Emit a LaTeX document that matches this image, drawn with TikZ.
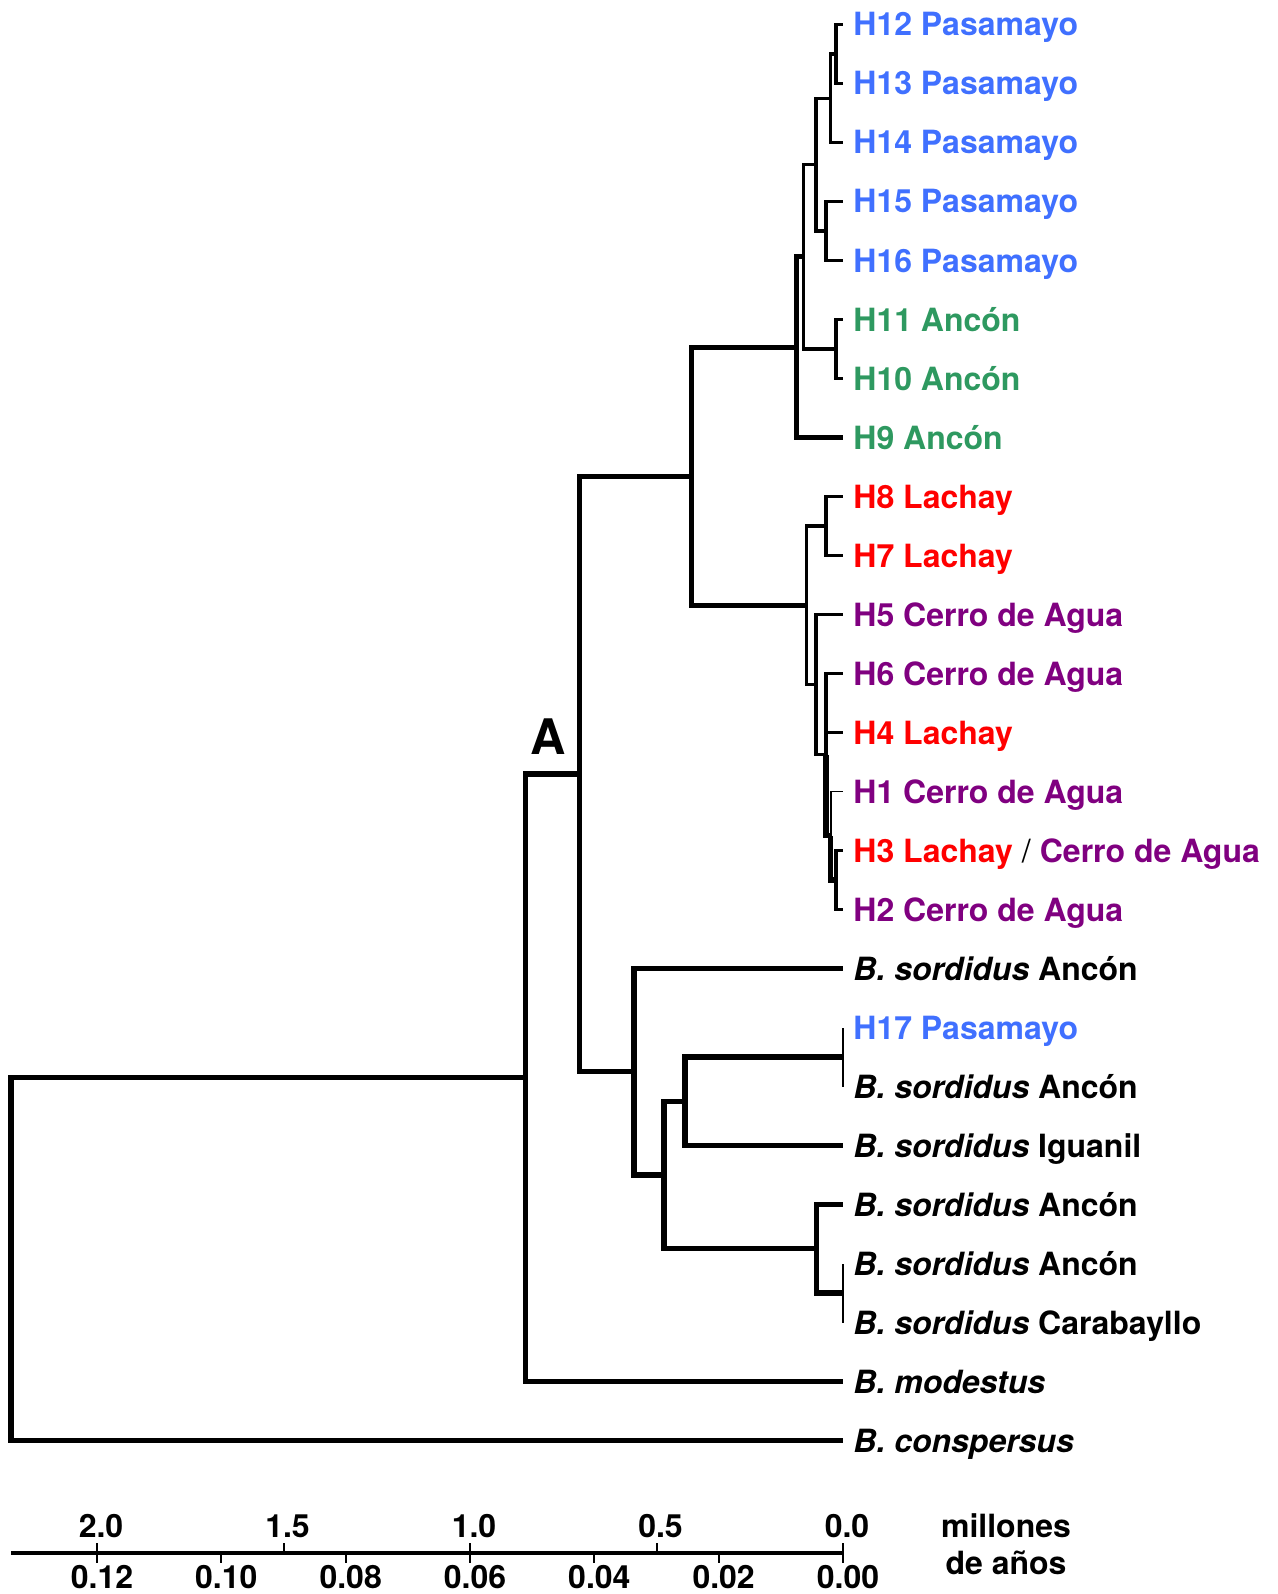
\documentclass[tikz,border=0pt]{standalone}
\usepackage{fontspec}
\setmainfont{TeX Gyre Heros}
\usepackage{xcolor}
\usepackage{tikz}
\definecolor{pasablue}{RGB}{64,112,255}
\definecolor{ancongreen}{RGB}{46,153,96}
\definecolor{lachayred}{RGB}{255,0,0}
\definecolor{cerropurple}{RGB}{128,0,128}
\newcommand{\bsp}[1]{\textit{B. #1}}

\begin{document}
\begin{tikzpicture}[x=0.5pt, y=-0.5pt, font=\fontsize{16}{19}\selectfont\bfseries,
  leaf/.style={anchor=west, inner xsep=5pt, inner ysep=0pt, text height=11.5pt, text depth=0pt},
  pasa/.style={leaf,text=pasablue}, ancon/.style={leaf,text=ancongreen},
  lachay/.style={leaf,text=lachayred}, cerro/.style={leaf,text=cerropurple},
  thk/.style={line width=2.6pt}, med/.style={line width=1.7pt}, thn/.style={line width=0.8pt},
  tick/.style={line width=1pt}]
\useasboundingbox (0,0) rectangle (1278,1594);

% leaves
\node[pasa] (h12) at (843,24.5) {H12 Pasamayo};
\node[pasa] (h13) at (843,83.5) {H13 Pasamayo};
\node[pasa] (h14) at (843,142.5) {H14 Pasamayo};
\node[pasa] (h15) at (843,201.5) {H15 Pasamayo};
\node[pasa] (h16) at (843,260.5) {H16 Pasamayo};
\node[ancon] (h11) at (843,319.5) {H11 Ancón};
\node[ancon] (h10) at (843,378.5) {H10 Ancón};
\node[ancon] (h9) at (843,437.5) {H9 Ancón};
\node[lachay] (h8) at (843,496.5) {H8 Lachay};
\node[lachay] (h7) at (843,555.5) {H7 Lachay};
\node[cerro] (h5) at (843,614.5) {H5 Cerro de Agua};
\node[cerro] (h6) at (843,673.5) {H6 Cerro de Agua};
\node[lachay] (h4) at (843,732.5) {H4 Lachay};
\node[cerro] (h1) at (843,791.5) {H1 Cerro de Agua};
\node[leaf] (h3) at (843,850.5) {\textcolor{lachayred}{H3 Lachay} \textmd{/} \textcolor{cerropurple}{Cerro de Agua}};
\node[cerro] (h2) at (843,909.5) {H2 Cerro de Agua};
\node[leaf] (sa1) at (843,968.5) {\bsp{sordidus} Ancón};
\node[pasa] (h17) at (843,1027.5) {H17 Pasamayo};
\node[leaf] (sa2) at (843,1086.5) {\bsp{sordidus} Ancón};
\node[leaf] (sig) at (843,1145.5) {\bsp{sordidus} Iguanil};
\node[leaf] (sa3) at (843,1204.5) {\bsp{sordidus} Ancón};
\node[leaf] (sa4) at (843,1263.5) {\bsp{sordidus} Ancón};
\node[leaf] (scb) at (843,1322.5) {\bsp{sordidus} Carabayllo};
\node[leaf] (mod) at (843,1381.5) {\bsp{modestus}};
\node[leaf] (consp) at (843,1440.5) {\bsp{conspersus}};

% internal nodes
\coordinate (n1) at (836,54);
\coordinate (n2) at (830.7,98.25);
\coordinate (n3) at (826,231);
\coordinate (n4) at (816,164.6);
\coordinate (n5) at (836,349);
\coordinate (n6) at (803.3,256.8);
\coordinate (n7) at (796.7,347.2);
\coordinate (m1) at (826,526);
\coordinate (p1) at (836,880);
\coordinate (p2) at (830.7,835.75);
\coordinate (p3) at (826,754.6);
\coordinate (p4) at (816,684.6);
\coordinate (p5) at (806.7,605.3);
\coordinate (lomas) at (691.4,476.2);
\coordinate (q1) at (843,1057);
\coordinate (q2) at (685,1101.25);
\coordinate (q3) at (816.7,1248.75);
\coordinate (q4) at (843,1293);
\coordinate (q5) at (664,1175);
\coordinate (q6) at (634,1071.75);
\coordinate (cladeA) at (579.5,774);
\coordinate (nA) at (525.6,1077.7);
\coordinate (root) at (11,1259.1);

% Pasamayo / Ancon
\draw[med] (n1) |- (h12.west);
\draw[med] (n1) |- (h13.west);
\draw[med] (n2) |- (n1);
\draw[med] (n2) |- (h14.west);
\draw[med] (n3) |- (h15.west);
\draw[med] (n3) |- (h16.west);
\draw[med] (n4) |- (n2);
\draw[med] (n4) |- (n3);
\draw[med] (n5) |- (h11.west);
\draw[med] (n5) |- (h10.west);
\draw[med] (n6) |- (n4);
\draw[med] (n6) |- (n5);
\draw[thk] (n7) |- (n6);
\draw[thk] (n7) |- (h9.west);

% Lachay / Cerro de Agua
\draw[med] (m1) |- (h8.west);
\draw[med] (m1) |- (h7.west);
\draw[med] (p1) |- (h3.west);
\draw[med] (p1) |- (h2.west);
\draw[thn] (p2) |- (h1.west);
\draw[thk] (p2) |- (p1);
\draw[med] (p3) |- (h6.west);
\draw[med] (p3) |- (h4.west);
\draw[thk] (p3) |- (p2);
\draw[med] (p4) |- (h5.west);
\draw[med] (p4) |- (p3);
\draw[med] (p5) |- (m1);
\draw[med] (p5) |- (p4);
\draw[thk] (lomas) |- (n7);
\draw[thk] (lomas) |- (p5);

% B. sordidus
\draw[thn] (q1) |- (h17.west);
\draw[thn] (q1) |- (sa2.west);
\draw[thk] (q2) |- (q1);
\draw[thk] (q2) |- (sig.west);
\draw[thn] (q4) |- (sa4.west);
\draw[thn] (q4) |- (scb.west);
\draw[thk] (q3) |- (sa3.west);
\draw[thk] (q3) |- (q4);
\draw[thk] (q5) |- (q2);
\draw[thk] (q5) |- (q3);
\draw[thk] (q6) |- (sa1.west);
\draw[thk] (q6) |- (q5);

% backbone
\draw[thk] (cladeA) |- (lomas);
\draw[thk] (cladeA) |- (q6);
\draw[thk] (nA) |- (cladeA);
\draw[thk] (nA) |- (mod.west);
\draw[thk] (root) |- (nA);
\draw[thk] (root) |- (consp.west);
\node[font=\fontsize{24.5}{28}\selectfont\bfseries] (lblA) at (548,737) {A};

% time axis
\coordinate (ax0) at (11,1553);
\coordinate (ax1) at (843,1553);
\draw[line width=2pt] (ax0) -- (ax1);
\foreach \v in {2.0,1.5,1.0,0.5,0.0} {
  \draw[tick] (843-373*\v,1553) -- ++(0,-10);
  \node[anchor=base] at (847-373*\v,1537) {\v};
}
\foreach \v in {0.12,0.10,0.08,0.06,0.04,0.02,0.00} {
  \draw[tick] (843-6216.7*\v,1553) -- ++(0,10);
  \node[anchor=base] at (848-6216.7*\v,1588) {\v};
}
\node[anchor=base] (unit1) at (1006,1537) {millones};
\node[anchor=base] (unit2) at (1006,1574) {de años};
\end{tikzpicture}
\end{document}
